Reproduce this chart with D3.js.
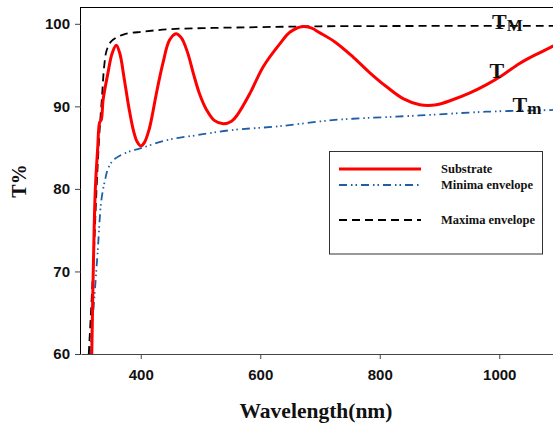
<!DOCTYPE html>
<html><head><meta charset="utf-8">
<script src="https://cdn.jsdelivr.net/npm/d3@7/dist/d3.min.js"></script>
<style>body{margin:0;background:#fff}svg{display:block}</style>
</head><body>
<svg id="c" width="553" height="423"></svg>
<script>
// Substrate transmittance
const subWl = [318,320.5,324,328,331,334,337,345,352,359,365,372,380,388,394,400,406,414,420,426,437,448,459,468,478,488,498,510,523,538,552,562,583,605,633,650,669,685,700,725,755,783,811,840,867,895,922,950,978,1006,1034,1062,1090,1100];
const subT  = [60,70,80,85,88,88.4,90.8,94,96.4,97.4,96.4,93.5,89.9,87.0,85.7,85.2,85.6,87.2,89.2,91.5,95.2,98,98.8,98.3,96.6,94.0,91.6,89.6,88.3,87.9,88.2,89.0,91.6,94.8,97.6,99.0,99.65,99.5,98.9,97.8,96,94.1,92.4,90.9,90.2,90.2,90.8,91.6,92.6,93.8,95.2,96.3,97.3,97.7];
// Maxima envelope
const maxWl = [313,320.5,326,331,335,339,343,351,371,404,449,520,600,700,1100];
const maxT  = [60,70.5,80,87,91,95,96.8,97.9,98.7,99.05,99.35,99.5,99.6,99.7,99.75];
// Minima envelope
const minWl = [315,322,328,334,340,346,356,376,399,443,493,549,633,716,755,867,978,1084,1100];
const minT  = [60,66.5,72.5,78.6,81,82.6,83.6,84.4,84.9,85.9,86.5,87.1,87.6,88.3,88.5,88.9,89.35,89.55,89.6];
const xTicks = [400,600,800,1000];
const yTicks = [60,70,80,90,100];
const legendLabels = ["Substrate","Minima envelope","Maxima envelope"];

const svg = d3.select("#c");
const x = d3.scaleLinear().domain([300,1100]).range([81,559]);
const y = d3.scaleLinear().domain([60,102]).range([354,7.3]);

svg.append("defs").append("clipPath").attr("id","clip")
  .append("rect").attr("x",81).attr("y",7).attr("width",480).attr("height",347);

// frame
svg.append("line").attr("x1",81).attr("x2",553).attr("y1",7.5).attr("y2",7.5).attr("stroke","#000").attr("stroke-width",1);
svg.append("line").attr("x1",80.5).attr("x2",80.5).attr("y1",7).attr("y2",354).attr("stroke","#000").attr("stroke-width",1);

const xAxis = svg.append("g").attr("transform","translate(0,354)")
  .call(d3.axisBottom(x).tickValues(xTicks).tickFormat(d3.format("d")).tickSize(5).tickSizeOuter(0).tickPadding(10));
xAxis.select(".domain").attr("stroke","#444");
xAxis.selectAll("line").attr("stroke","#444");
xAxis.selectAll("text").attr("font-family","Liberation Sans, Arial, sans-serif").attr("font-weight","bold").attr("font-size","15px").attr("fill","#111");

const yAxis = svg.append("g").attr("transform","translate(81,0)")
  .call(d3.axisLeft(y).tickValues(yTicks).tickFormat(d3.format("d")).tickSize(6).tickSizeOuter(0).tickPadding(5));
yAxis.select(".domain").remove();
yAxis.selectAll("line").attr("stroke","#444");
yAxis.selectAll("text").attr("font-family","Liberation Sans, Arial, sans-serif").attr("font-weight","bold").attr("font-size","15px").attr("fill","#111");

const line = d3.line().x(d=>x(d[0])).y(d=>y(d[1])).curve(d3.curveCatmullRom.alpha(0.5));
const plot = svg.append("g").attr("clip-path","url(#clip)");

const minData = minWl.map((w,i)=>[w,minT[i]]);
const maxData = maxWl.map((w,i)=>[w,maxT[i]]);
const subData = subWl.map((w,i)=>[w,subT[i]]);

plot.append("path").datum(minData).attr("d",line).attr("fill","none")
  .attr("stroke","#1f5fa8").attr("stroke-width",1.8).attr("stroke-dasharray","8,4,1.5,3,1.5,4");
plot.append("path").datum(maxData).attr("d",line).attr("fill","none")
  .attr("stroke","#000").attr("stroke-width",1.8).attr("stroke-dasharray","8,5");
plot.append("path").datum(subData).attr("d",line).attr("fill","none")
  .attr("stroke","#ff0000").attr("stroke-width",3);

// legend
const lg = svg.append("g");
lg.append("rect").attr("x",329.5).attr("y",151.5).attr("width",213).attr("height",102.5)
  .attr("fill","#fff").attr("stroke","#333").attr("stroke-width",1);
const legY = [169,185,220];
const legStyle = [
  {c:"#ff0000",w:3,d:null},
  {c:"#1f5fa8",w:1.8,d:"8,4,1.5,3,1.5,4"},
  {c:"#000",w:1.8,d:"8,5"}
];
legendLabels.forEach((t,i)=>{
  const l = lg.append("line").attr("x1",339).attr("x2",421).attr("y1",legY[i]).attr("y2",legY[i])
    .attr("stroke",legStyle[i].c).attr("stroke-width",legStyle[i].w);
  if(legStyle[i].d) l.attr("stroke-dasharray",legStyle[i].d);
  lg.append("text").attr("x",441).attr("y",legY[i]+4).text(t)
    .attr("font-family","Liberation Serif, Times New Roman, serif").attr("font-weight","bold")
    .attr("font-size","12.5px").attr("fill","#111");
});

// curve labels
const serif = "Liberation Serif, Times New Roman, serif";
const tm = svg.append("text").attr("x",492).attr("y",28.5).attr("font-family",serif).attr("font-weight","bold").attr("fill","#111");
tm.append("tspan").attr("font-size","22px").text("T");
tm.append("tspan").attr("font-size","17px").attr("dy",2).text("M");
svg.append("text").attr("x",489.5).attr("y",77.5).attr("font-family",serif).attr("font-weight","bold").attr("font-size","22px").attr("fill","#111").text("T");
const tmin = svg.append("text").attr("x",512.5).attr("y",111.5).attr("font-family",serif).attr("font-weight","bold").attr("fill","#111");
tmin.append("tspan").attr("font-size","22px").text("T");
tmin.append("tspan").attr("font-size","17px").attr("dy",2).text("m");

// axis titles
svg.append("text").attr("x",316).attr("y",418).attr("text-anchor","middle").attr("font-family",serif)
  .attr("font-weight","bold").attr("font-size","21.5px").attr("fill","#111").text("Wavelength(nm)");
svg.append("text").attr("transform","translate(26,181) rotate(-90)").attr("text-anchor","middle").attr("font-family",serif)
  .attr("font-weight","bold").attr("font-size","20px").attr("fill","#111").text("T%");
</script>
</body></html>
